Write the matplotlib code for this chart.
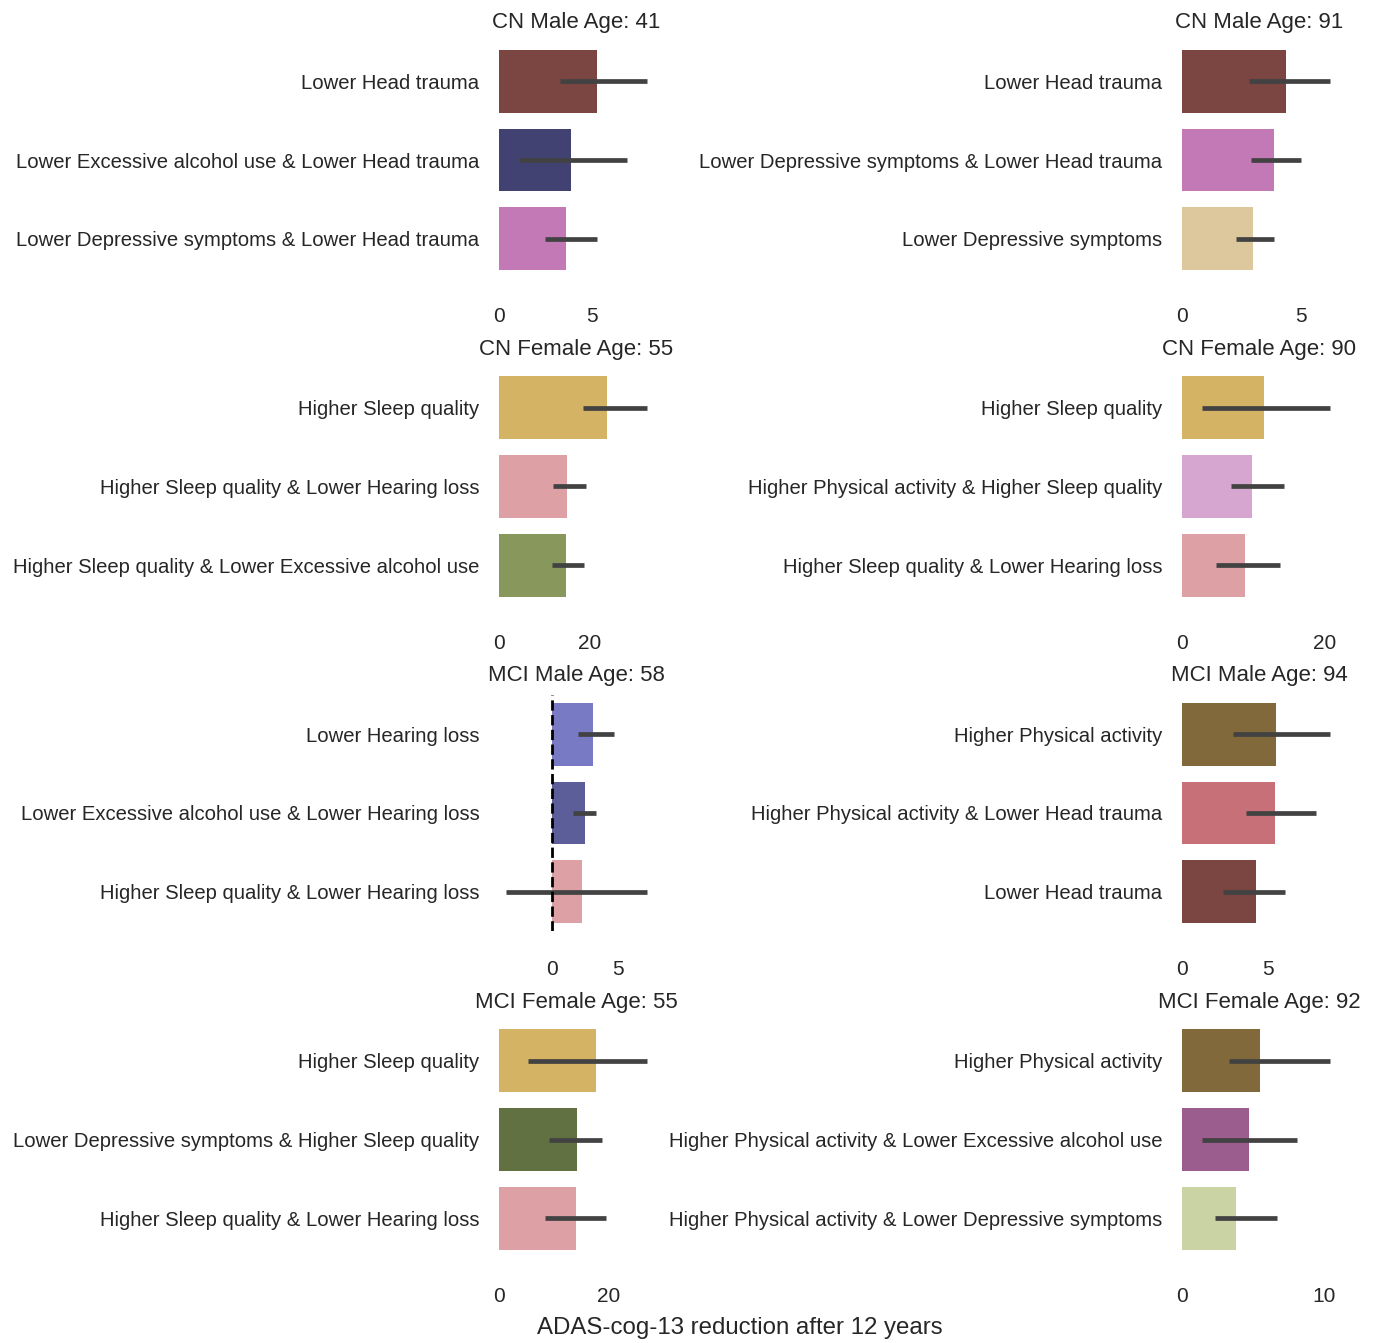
import colorsys
import matplotlib
matplotlib.use("Agg")
import matplotlib.pyplot as plt
import matplotlib.colors as mcolors

plt.rcParams['font.family'] = ['Liberation Sans', 'DejaVu Sans']
plt.rcParams['text.color'] = '.15'
plt.rcParams['xtick.color'] = '.15'
plt.rcParams['ytick.color'] = '.15'

# panel titles, in reading order (left column, right column per row)
titles = ["CN Male Age: 41", "CN Male Age: 91",
          "CN Female Age: 55", "CN Female Age: 90",
          "MCI Male Age: 58", "MCI Male Age: 94",
          "MCI Female Age: 55", "MCI Female Age: 92"]

labels = [
    ["Lower Head trauma", "Lower Excessive alcohol use & Lower Head trauma",
     "Lower Depressive symptoms & Lower Head trauma"],
    ["Lower Head trauma", "Lower Depressive symptoms & Lower Head trauma",
     "Lower Depressive symptoms"],
    ["Higher Sleep quality", "Higher Sleep quality & Lower Hearing loss",
     "Higher Sleep quality & Lower Excessive alcohol use"],
    ["Higher Sleep quality", "Higher Physical activity & Higher Sleep quality",
     "Higher Sleep quality & Lower Hearing loss"],
    ["Lower Hearing loss", "Lower Excessive alcohol use & Lower Hearing loss",
     "Higher Sleep quality & Lower Hearing loss"],
    ["Higher Physical activity", "Higher Physical activity & Lower Head trauma",
     "Lower Head trauma"],
    ["Higher Sleep quality", "Lower Depressive symptoms & Higher Sleep quality",
     "Higher Sleep quality & Lower Hearing loss"],
    ["Higher Physical activity", "Higher Physical activity & Lower Excessive alcohol use",
     "Higher Physical activity & Lower Depressive symptoms"],
]

# mean reduction and CI bounds
values = [
    [5.3, 3.9, 3.6],
    [4.35, 3.85, 3.0],
    [23.7, 15.0, 14.7],
    [11.5, 9.8, 8.8],
    [3.1, 2.5, 2.3],
    [5.5, 5.4, 4.3],
    [17.6, 14.2, 14.0],
    [5.5, 4.7, 3.8],
]
ci_low = [
    [3.3, 1.1, 2.5],
    [2.8, 2.9, 2.25],
    [18.5, 11.9, 11.6],
    [2.8, 6.9, 4.8],
    [2.0, 1.6, -3.5],
    [3.0, 3.7, 2.4],
    [5.3, 9.1, 8.4],
    [3.3, 1.4, 2.3],
]
ci_high = [
    [7.95, 6.9, 5.3],
    [6.2, 5.0, 3.85],
    [32.5, 19.1, 18.7],
    [20.7, 14.3, 13.8],
    [4.7, 3.3, 7.2],
    [8.6, 7.8, 6.0],
    [26.9, 18.7, 19.5],
    [10.4, 8.1, 6.7],
]
xticks = [[0, 5], [0, 5], [0, 20], [0, 20], [0, 5], [0, 5], [0, 20], [0, 10]]

palette = {
    "Lower Head trauma": "#843c39",
    "Lower Excessive alcohol use & Lower Head trauma": "#393b79",
    "Lower Depressive symptoms & Lower Head trauma": "#ce6dbd",
    "Lower Depressive symptoms": "#e7cb94",
    "Higher Sleep quality": "#e7ba52",
    "Higher Sleep quality & Lower Hearing loss": "#e7969c",
    "Higher Sleep quality & Lower Excessive alcohol use": "#8ca252",
    "Higher Physical activity & Higher Sleep quality": "#de9ed6",
    "Lower Hearing loss": "#6b6ecf",
    "Lower Excessive alcohol use & Lower Hearing loss": "#5254a3",
    "Higher Physical activity": "#8c6d31",
    "Higher Physical activity & Lower Head trauma": "#d6616b",
    "Lower Depressive symptoms & Higher Sleep quality": "#637939",
    "Higher Physical activity & Lower Excessive alcohol use": "#a55194",
    "Higher Physical activity & Lower Depressive symptoms": "#cedb9c",
}


def desat(c, prop=0.75):
    h, l, s = colorsys.rgb_to_hls(*mcolors.to_rgb(c))
    return colorsys.hls_to_rgb(h, l, s * prop)


W, H = 1374, 1343
fig = plt.figure(figsize=(W / 100, H / 100), dpi=100)

col_left = [499 / W, 1182 / W]
ax_w = 155 / W
ax_h = 236 / H
row_tops = [42, 368.5, 695, 1021.5]

for i, title in enumerate(titles):
    r, c = divmod(i, 2)
    ax = fig.add_axes([col_left[c], 1 - (row_tops[r] + 236) / H, ax_w, ax_h])
    vals = values[i]
    xerr = [[v - lo for v, lo in zip(vals, ci_low[i])],
            [hi - v for v, hi in zip(vals, ci_high[i])]]
    ax.barh(range(3), vals, height=0.8,
            color=[desat(palette[l]) for l in labels[i]],
            xerr=xerr,
            error_kw=dict(ecolor='.26', elinewidth=3.4, capsize=0, capthick=0))
    if min(ci_low[i]) < 0:
        ax.axvline(0, color='black', ls='--', lw=2)
    ax.set_ylim(2.5, -0.5)
    ax.set_yticks(range(3))
    ax.set_yticklabels(labels[i], fontsize=14.6)
    ax.set_xticks(xticks[i])
    ax.tick_params(axis='y', length=0, pad=14)
    ax.tick_params(axis='x', length=0, pad=21, labelsize=15)
    for s in ax.spines.values():
        s.set_visible(False)
    ax.set_title(title, fontsize=16, pad=10)

fig.text(739.5 / W, 1 - 1328 / H, "ADAS-cog-13 reduction after 12 years",
         ha='center', va='center', fontsize=17.3)

fig.savefig("out.png", dpi=100, facecolor='white')
plt.close(fig)
